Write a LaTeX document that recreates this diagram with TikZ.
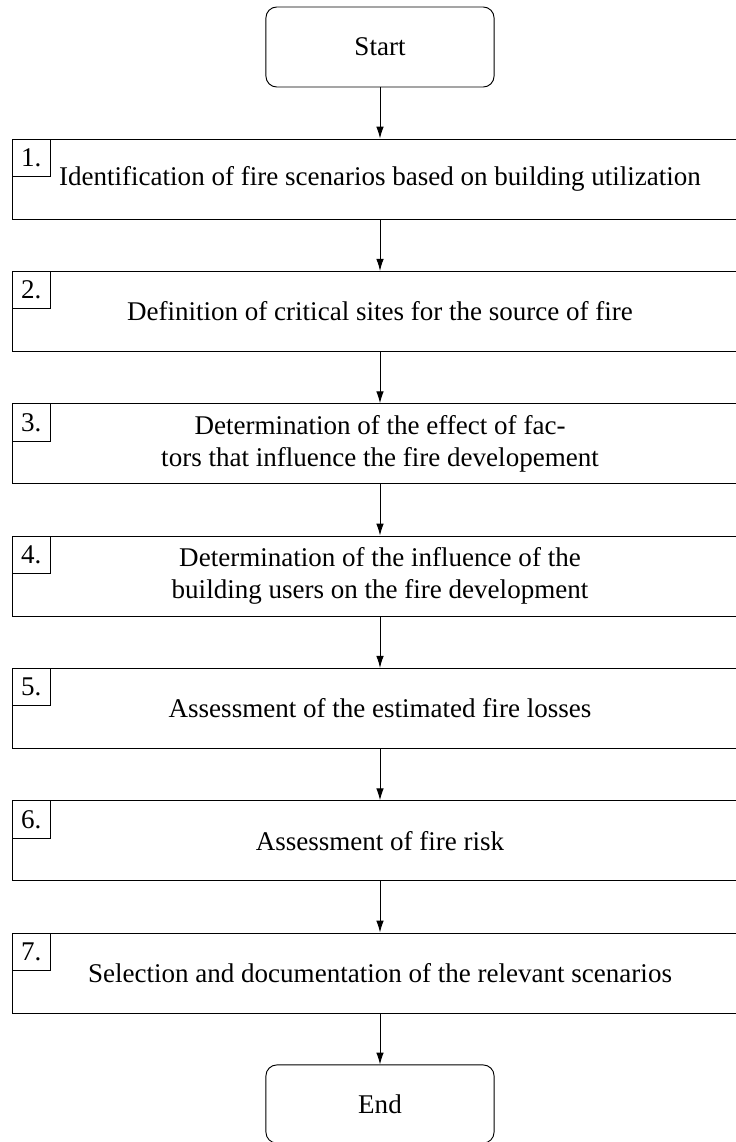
\documentclass[tikz,border=0pt]{standalone}
\usepackage{fontspec}
\setmainfont{Liberation Serif}
\usetikzlibrary{arrows.meta}
\begin{document}
\begin{tikzpicture}[x=0.37pt,y=-0.37pt,line width=0.35pt,
  term/.style={draw,rounded corners=4pt,minimum width=84.4pt,minimum height=29.6pt,inner sep=0pt},
  stepbox/.style={draw,minimum width=272.3pt,minimum height=29.6pt,inner sep=0pt,align=center},
  numbox/.style={draw,anchor=north west,minimum width=14.3pt,minimum height=13.9pt,inner sep=0pt},
  flow/.style={-{Latex[length=4.4pt,width=2.8pt]}}]
\useasboundingbox (0,0) rectangle (736,1142);
\node[term] (start) at (380,47) {Start};
\node[stepbox] (s1) at (380,179) {Identification of fire scenarios based on building utilization};
\node[stepbox] (s2) at (380,311.3) {Definition of critical sites for the source of fire};
\node[stepbox] (s3) at (380,443.7) {Determination of the effect of fac-\\tors that influence the fire developement};
\node[stepbox] (s4) at (380,576) {Determination of the influence of the\\building users on the fire development};
\node[stepbox] (s5) at (380,708.3) {Assessment of the estimated fire losses};
\node[stepbox] (s6) at (380,840.7) {Assessment of fire risk};
\node[stepbox] (s7) at (380,973) {Selection and documentation of the relevant scenarios};
\node[term,minimum height=28.9pt] (end) at (380,1104) {End};
\foreach \i in {1,...,7} {
  \node[numbox] (n\i) at (s\i.north west) {\i.};
}
\draw[flow] (start) -- (s1);
\draw[flow] (s1) -- (s2);
\draw[flow] (s2) -- (s3);
\draw[flow] (s3) -- (s4);
\draw[flow] (s4) -- (s5);
\draw[flow] (s5) -- (s6);
\draw[flow] (s6) -- (s7);
\draw[flow] (s7) -- (end);
\end{tikzpicture}
\end{document}
